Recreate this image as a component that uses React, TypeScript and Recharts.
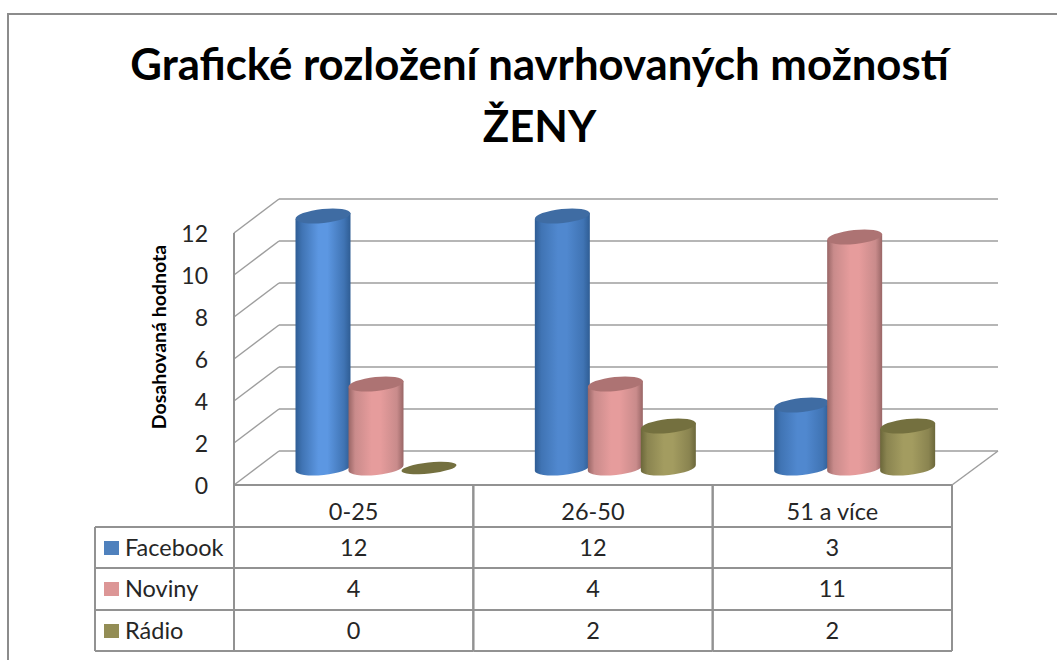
import React from "react";
import { BarChart, Bar, XAxis, YAxis, CartesianGrid } from "recharts";

const categories = ["0-25", "26-50", "51 a více"];
const facebook = [12, 12, 3];
const noviny = [4, 4, 11];
const radio = [0, 2, 2];
const yTicks = [0, 2, 4, 6, 8, 10, 12];
const titleLines = ["Grafické rozložení navrhovaných možností", "ŽENY"];
const yTitle = "Dosahovaná hodnota";

const FONT = "Lato, Carlito, Calibri, sans-serif";
const W = 1057;
const H = 660;
const LEFT = 234;
const RIGHT = 952;
const TOP = 233;
const BOTTOM = 485;
const DEPTH_X = 45;
const DEPTH_Y = 34;
const GRID = "#9e9e9e";
const TABLE = "#929292";
const TEXT = "#262626";
const ROWS_Y = [527, 568, 610, 651];
const TABLE_LEFT = 95;

const series = [
  { name: "Facebook", key: "facebook", values: facebook, swatch: "#4f81bd", top: "#3f6ca3", edge: "#2f5d94", side: "#4074b4", mid: "#5088cf", midFirst: "#5c97e2" },
  { name: "Noviny", key: "noviny", values: noviny, swatch: "#dc9696", top: "#ad7373", edge: "#996666", side: "#c98b8b", mid: "#e69c9c" },
  { name: "Rádio", key: "radio", values: radio, swatch: "#938d55", top: "#74703f", edge: "#6b673a", side: "#8a8450", mid: "#a39c60" },
];

const data = categories.map((category, i) => ({
  category,
  facebook: facebook[i],
  noviny: noviny[i],
  radio: radio[i],
}));

const TILT = 6;
const RY = 7;

function Cylinder(props: any) {
  const { x, y, width, height, s, index } = props;
  const rx = width / 2 / Math.cos((TILT * Math.PI) / 180);
  const cx = x + width / 2 + 22.5;
  const topY = y - 17;
  const botY = y + height - 17;
  const dx = width / 2;
  const dy = rx * Math.sin((TILT * Math.PI) / 180);
  const body = `M${cx - dx},${topY + dy} L${cx - dx},${botY + dy} A${rx},${RY} ${-TILT} 0 0 ${cx + dx},${botY - dy} L${cx + dx},${topY - dy} Z`;
  const grad = s.midFirst && index === 0 ? `grad-${s.key}-first` : `grad-${s.key}`;
  return (
    <g>
      {height > 0 && <path d={body} fill={`url(#${grad})`} />}
      <ellipse cx={cx} cy={topY} rx={rx} ry={height > 0 ? RY : RY - 1.5} fill={s.top} transform={`rotate(${-TILT} ${cx} ${topY})`} />
    </g>
  );
}

function gridLine(props: any) {
  const y = props.y1;
  const isFloor = Math.abs(y - BOTTOM) < 1;
  return (
    <g key={`g-${y}`}>
      <line x1={LEFT} y1={y} x2={LEFT + DEPTH_X} y2={y - DEPTH_Y} stroke={GRID} strokeWidth={1.5} />
      <line x1={LEFT + DEPTH_X} y1={y - DEPTH_Y} x2={RIGHT + 46} y2={y - DEPTH_Y} stroke={GRID} strokeWidth={1.6} />
      {isFloor && <line x1={RIGHT} y1={y} x2={RIGHT + 46} y2={y - DEPTH_Y} stroke={GRID} strokeWidth={1.5} />}
    </g>
  );
}

function TableTick(props: any) {
  const { x, payload, index } = props;
  const band = (RIGHT - LEFT) / categories.length;
  const left = x - band / 2;
  const right = x + band / 2;
  const i = categories.indexOf(payload.value);
  const textStyle = { fontFamily: FONT, fontSize: 23.5, fill: TEXT };
  return (
    <g>
      <line x1={left} y1={BOTTOM} x2={left} y2={ROWS_Y[3]} stroke={TABLE} strokeWidth={2} />
      <line x1={right} y1={BOTTOM} x2={right} y2={ROWS_Y[3]} stroke={TABLE} strokeWidth={2} />
      {ROWS_Y.map((ry) => (
        <line key={ry} x1={left} y1={ry} x2={right} y2={ry} stroke={TABLE} strokeWidth={2} />
      ))}
      <text x={x} y={520} textAnchor="middle" {...textStyle}>{payload.value}</text>
      {series.map((s, r) => (
        <text key={s.key} x={x} y={ROWS_Y[r] + 29} textAnchor="middle" {...textStyle}>{s.values[i]}</text>
      ))}
      {index === 0 && (
        <g>
          <line x1={TABLE_LEFT} y1={ROWS_Y[0]} x2={TABLE_LEFT} y2={ROWS_Y[3]} stroke={TABLE} strokeWidth={2} />
          {ROWS_Y.map((ry) => (
            <line key={ry} x1={TABLE_LEFT} y1={ry} x2={left} y2={ry} stroke={TABLE} strokeWidth={2} />
          ))}
          {series.map((s, r) => (
            <g key={s.key}>
              <rect x={104} y={ROWS_Y[r] + 14} width={15} height={14} fill={s.swatch} />
              <text x={125} y={ROWS_Y[r] + 29} {...textStyle}>{s.name}</text>
            </g>
          ))}
        </g>
      )}
    </g>
  );
}

const gradientStops = (s: any, mid: string) => [
  <stop key="a" offset="0%" stopColor={s.edge} />,
  <stop key="b" offset="12%" stopColor={s.side} />,
  <stop key="c" offset="42%" stopColor={mid} />,
  <stop key="d" offset="58%" stopColor={mid} />,
  <stop key="e" offset="88%" stopColor={s.side} />,
  <stop key="f" offset="100%" stopColor={s.edge} />,
];

export default function App() {
  return (
    <div style={{ position: "absolute", left: 0, top: 0, width: W, height: H, background: "#fff", overflow: "hidden" }}>
      <div style={{ position: "absolute", left: 7, top: 13, width: 1050, height: 660, borderLeft: "2px solid #8c8c8c", borderTop: "2px solid #8c8c8c", boxSizing: "border-box" }} />
      {titleLines.map((t, i) => (
        <div
          key={t}
          style={{ position: "absolute", left: 0, width: 1079, top: 35 + i * 62, textAlign: "center", fontFamily: FONT, fontWeight: 700, fontSize: 43.7, lineHeight: "56px", color: "#000" }}
        >
          {t}
        </div>
      ))}
      <BarChart
        width={W}
        height={H}
        data={data}
        barSize={55}
        barGap={-2}
        margin={{ top: TOP, right: W - RIGHT, bottom: 0, left: 0 }}
        style={{ position: "absolute", left: 0, top: 0 }}
      >
        <defs>
          {series.map((s) => (
            <linearGradient key={s.key} id={`grad-${s.key}`} x1="0" y1="0" x2="1" y2="0">
              {gradientStops(s, s.mid)}
            </linearGradient>
          ))}
          {series.filter((s) => s.midFirst).map((s) => (
            <linearGradient key={s.key} id={`grad-${s.key}-first`} x1="0" y1="0" x2="1" y2="0">
              {gradientStops(s, s.midFirst as string)}
            </linearGradient>
          ))}
        </defs>
        <CartesianGrid vertical={false} horizontal={gridLine as any} syncWithTicks />
        <XAxis
          dataKey="category"
          height={H - BOTTOM}
          interval={0}
          tickLine={false}
          axisLine={{ stroke: TABLE, strokeWidth: 2 }}
          tick={<TableTick />}
        />
        <YAxis
          type="number"
          domain={[0, 12]}
          ticks={yTicks}
          width={LEFT}
          interval={0}
          tickLine={false}
          tickSize={0}
          tickMargin={26}
          axisLine={{ stroke: TABLE, strokeWidth: 2 }}
          tick={{ fontFamily: FONT, fontSize: 23, fill: TEXT, dy: 1 }}
          label={{
            content: () => (
              <text
                x={166}
                y={337}
                transform="rotate(-90 166 337)"
                textAnchor="middle"
                fontFamily={FONT}
                fontWeight={700}
                fontSize={19.5}
                fill="#000"
              >
                {yTitle}
              </text>
            ),
          }}
        />
        {series.map((s) => (
          <Bar
            key={s.key}
            dataKey={s.key}
            isAnimationActive={false}
            shape={(p: any) => <Cylinder {...p} s={s} />}
          />
        ))}
      </BarChart>
    </div>
  );
}
